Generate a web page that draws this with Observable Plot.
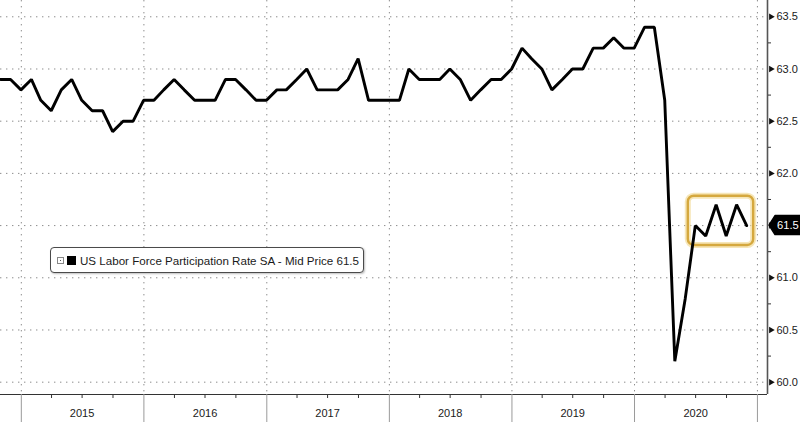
<!DOCTYPE html>
<html>
<head>
<meta charset="utf-8">
<script src="https://cdn.jsdelivr.net/npm/d3@7"></script>
<script src="https://cdn.jsdelivr.net/npm/@observablehq/plot@0.6"></script>
<style>
  html, body { margin: 0; padding: 0; background: #fff; }
  #wrap { position: relative; width: 800px; height: 422px; overflow: hidden; font-family: "Liberation Sans", Arial, sans-serif; }
  #legend { position: absolute; left: 50px; top: 247px; width: 312px; height: 24px; box-sizing: content-box;
            border: 1.4px solid #4a4a4a; border-radius: 4px; background: #fff;
            box-shadow: 1px 1px 2px rgba(0,0,0,0.25);
            display: flex; align-items: center; white-space: nowrap; font-size: 11.6px; color: #1a1a1a; }
  #legend .exp { width: 5px; height: 5px; border: 1px solid #888; margin-left: 6px; position: relative; }
  #legend .exp::after { content: ""; position: absolute; left: 2px; top: 2px; width: 1px; height: 1px; background: #555; }
  #legend .sw { width: 9px; height: 9px; background: #000; margin-left: 3px; margin-right: 4px; }
</style>
</head>
<body>
<div id="wrap"></div>
<script>
// ---- data (monthly, plotted at month end) ----
const months = [
  "2014-10","2014-11","2014-12",
  "2015-01","2015-02","2015-03","2015-04","2015-05","2015-06","2015-07","2015-08","2015-09","2015-10","2015-11","2015-12",
  "2016-01","2016-02","2016-03","2016-04","2016-05","2016-06","2016-07","2016-08","2016-09","2016-10","2016-11","2016-12",
  "2017-01","2017-02","2017-03","2017-04","2017-05","2017-06","2017-07","2017-08","2017-09","2017-10","2017-11","2017-12",
  "2018-01","2018-02","2018-03","2018-04","2018-05","2018-06","2018-07","2018-08","2018-09","2018-10","2018-11","2018-12",
  "2019-01","2019-02","2019-03","2019-04","2019-05","2019-06","2019-07","2019-08","2019-09","2019-10","2019-11","2019-12",
  "2020-01","2020-02","2020-03","2020-04","2020-05","2020-06","2020-07","2020-08","2020-09","2020-10","2020-11"
];
const rates = [
  62.9, 62.9, 62.8,
  62.9, 62.7, 62.6, 62.8, 62.9, 62.7, 62.6, 62.6, 62.4, 62.5, 62.5, 62.7,
  62.7, 62.8, 62.9, 62.8, 62.7, 62.7, 62.7, 62.9, 62.9, 62.8, 62.7, 62.7,
  62.8, 62.8, 62.9, 63.0, 62.8, 62.8, 62.8, 62.9, 63.1, 62.7, 62.7, 62.7,
  62.7, 63.0, 62.9, 62.9, 62.9, 63.0, 62.9, 62.7, 62.8, 62.9, 62.9, 63.0,
  63.2, 63.1, 63.0, 62.8, 62.9, 63.0, 63.0, 63.2, 63.2, 63.3, 63.2, 63.2,
  63.4, 63.4, 62.7, 60.2, 60.8, 61.5, 61.4, 61.7, 61.4, 61.7, 61.5
];
const yTicks = [60.0, 60.5, 61.0, 61.5, 62.0, 62.5, 63.0, 63.5];
const yMinorTicks = [60.25, 60.75, 61.25, 61.75, 62.25, 62.75, 63.25];
const yearLabels = ["2015", "2016", "2017", "2018", "2019", "2020"];
const gridYears = ["2015", "2016", "2017", "2018", "2019", "2020", "2021"];
const seriesName = "US Labor Force Participation Rate SA - Mid Price";
const highlightCount = 6;
const xDomainDates = ["2014-10-31", "2021-01-31"];
const yDomain = [59.882, 63.656];

// ---- derived ----
const parseMonth = d3.utcParse("%Y-%m");
const data = months.map((m, i) => ({
  date: d3.utcDay.offset(d3.utcMonth.offset(parseMonth(m), 1), -1),
  value: rates[i]
}));
const last = data[data.length - 1];
const hl = data.slice(-highlightCount);
const highlight = {
  x1: hl[0].date, x2: hl[hl.length - 1].date,
  y1: d3.min(hl, d => d.value), y2: d3.max(hl, d => d.value)
};
const xDomain = xDomainDates.map(s => new Date(s + "T00:00:00Z"));
const yearStarts = gridYears.map(y => new Date(y + "-01-01T00:00:00Z"));
const yearMids = yearLabels.map(y => new Date(y + "-07-01T00:00:00Z"));
const quarterTicks = yearLabels.flatMap(y => ["04", "07", "10"].map(m => new Date(`${y}-${m}-01T00:00:00Z`)));
// the current-value tag covers the axis label at the same level
const yLabelTicks = yTicks.filter(t => Math.abs(t - last.value) > 0.2);

const gridStyle = {stroke: "#8c8c8c", strokeDasharray: "1.4,4.6", strokeWidth: 1};

const plot = Plot.plot({
  width: 800,
  height: 422,
  marginTop: 0,
  marginBottom: 28,
  marginLeft: 0,
  marginRight: 33,
  style: {fontFamily: "'Liberation Sans', Arial, sans-serif", fontSize: "11px", color: "#1a1a1a", background: "#fff", overflow: "visible"},
  x: {type: "utc", domain: xDomain},
  y: {domain: yDomain},
  marks: [
    Plot.ruleY(yTicks, gridStyle),
    Plot.ruleX(yearStarts, gridStyle),
    Plot.ruleY([yDomain[0]], {stroke: "#333", strokeWidth: 1}),
    Plot.ruleX([xDomain[1]], {stroke: "#555", strokeWidth: 1.6}),
    Plot.axisX(yearStarts, {tickSize: 28, tickFormat: () => "", stroke: "#9a9a9a", label: null}),
    Plot.axisX(quarterTicks, {tickSize: 4, tickFormat: () => "", stroke: "#333", label: null}),
    Plot.axisX(yearMids, {tickSize: 0, tickPadding: 15, tickFormat: d3.utcFormat("%Y"), fill: "#1a1a1a", fontSize: 11, label: null}),
    Plot.axisY(yLabelTicks, {anchor: "right", tickSize: 0, tickPadding: 9, tickFormat: d => d.toFixed(1), fill: "#1a1a1a", fontSize: 11, label: null}),
    Plot.axisY(yMinorTicks, {anchor: "right", tickSize: 3, tickFormat: () => "", stroke: "#333", label: null}),
    Plot.dot(yTicks, {x: () => xDomain[1], y: d => d, symbol: "triangle", rotate: 90, r: 2.4, fill: "#111", stroke: "none", dx: 3.5}),
    Plot.rect([highlight], {x1: "x1", x2: "x2", y1: "y1", y2: "y2", insetLeft: -7, insetRight: -7, insetTop: -8.5, insetBottom: -9.5, rx: 6, fill: "none", stroke: "#f2dc9a", strokeWidth: 6, strokeOpacity: 0.7}),
    Plot.rect([highlight], {x1: "x1", x2: "x2", y1: "y1", y2: "y2", insetLeft: -7, insetRight: -7, insetTop: -8.5, insetBottom: -9.5, rx: 6, fill: "none", stroke: "#d5a83e", strokeWidth: 2.4}),
    Plot.line(data, {x: "date", y: "value", stroke: "#000", strokeWidth: 2.9, strokeLinejoin: "miter"})
  ]
});

document.getElementById("wrap").appendChild(plot);

// current-value tag on the right axis
const xs = plot.scale("x"), ys = plot.scale("y");
const xr = xs.apply(xDomain[1]);
const yv = ys.apply(last.value);
const g = d3.select(plot).append("g");
g.append("path")
  .attr("d", `M${xr + 2},${yv} L${xr + 8},${yv - 9.5} H${802} V${yv + 9.5} H${xr + 8} Z`)
  .attr("fill", "#000").attr("stroke", "#000").attr("stroke-linejoin", "round").attr("stroke-width", 1.5);
g.append("text")
  .attr("x", xr + 10).attr("y", yv).attr("dy", "0.35em")
  .attr("text-anchor", "start")
  .attr("fill", "#fff").attr("font-size", 11.2)
  .attr("font-family", "'Liberation Sans', Arial, sans-serif")
  .text(last.value.toFixed(1));

// legend box
const legend = document.createElement("div");
legend.id = "legend";
legend.innerHTML = `<span class="exp"></span><span class="sw"></span><span>${seriesName} ${last.value.toFixed(1)}</span>`;
document.getElementById("wrap").appendChild(legend);
</script>
</body>
</html>
